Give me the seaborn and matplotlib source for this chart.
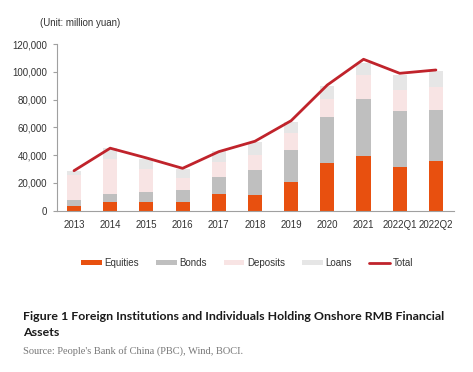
import numpy as np
import pandas as pd
import matplotlib
matplotlib.use("Agg")
import matplotlib.pyplot as plt
from matplotlib.patches import Patch
from matplotlib.lines import Line2D
from matplotlib.ticker import FuncFormatter
import seaborn as sns

categories = ["2013", "2014", "2015", "2016", "2017", "2018", "2019", "2020", "2021", "2022Q1", "2022Q2"]
equities = [3600, 6000, 6000, 6500, 11800, 11300, 20900, 34600, 39600, 31700, 36000]
bonds = [3900, 6000, 7700, 8400, 12200, 18000, 22800, 33100, 40800, 40100, 36500]
deposits = [18400, 25000, 16100, 8900, 11300, 10800, 12000, 12500, 17300, 15100, 16800]
loans = [2900, 8000, 7200, 6200, 7500, 9600, 8400, 9600, 8400, 10800, 11500]
total = [28800, 45000, 38000, 30500, 42500, 50000, 64800, 90500, 109000, 98900, 101300]

c_eq = "#E8500F"
c_bo = "#BFBFBF"
c_de = "#F8E4E4"
c_lo = "#E6E6E6"
c_to = "#C0232B"

sns.set_style("white")
plt.rcParams["font.family"] = ["Liberation Sans", "DejaVu Sans"]

W, H = 473, 372
fig = plt.figure(figsize=(W / 100, H / 100), dpi=100)
ax = fig.add_axes([57 / W, 1 - 210.7 / H, (454 - 57) / W, (210.7 - 44) / H])

df = pd.DataFrame({"cat": categories, "eq": equities, "bo": bonds, "de": deposits, "lo": loans})
df["c1"] = df["eq"]
df["c2"] = df["c1"] + df["bo"]
df["c3"] = df["c2"] + df["de"]
df["c4"] = df["c3"] + df["lo"]

for col, color in [("c4", c_lo), ("c3", c_de), ("c2", c_bo), ("c1", c_eq)]:
    sns.barplot(data=df, x="cat", y=col, color=color, width=0.39, ax=ax,
                saturation=1, linewidth=0, order=categories)

sns.lineplot(x=np.arange(len(categories)), y=total, color=c_to, linewidth=2.0, ax=ax)

ax.set_xlim(-0.47, len(categories) - 0.5)
ax.set_ylim(0, 120000)
ax.set_yticks(np.arange(0, 120001, 20000))
ax.yaxis.set_major_formatter(FuncFormatter(lambda v, p: f"{int(v):,}"))
ax.set_xlabel("")
ax.set_ylabel("")
for s in ["top", "right"]:
    ax.spines[s].set_visible(False)
for s in ["left", "bottom"]:
    ax.spines[s].set_color("#A0A0A0")
    ax.spines[s].set_linewidth(0.8)
ax.tick_params(axis="y", which="major", length=3, color="#A0A0A0", labelsize=7, labelcolor="#333333", pad=4, left=True)
ax.tick_params(axis="x", length=0, labelsize=7, labelcolor="#333333", pad=7)

fig.text(40 / W, 1 - 23 / H, "(Unit: million yuan)", fontsize=7, color="#333333", va="center", ha="left")

handles = [
    Patch(facecolor=c_eq, edgecolor="none", label="Equities"),
    Patch(facecolor=c_bo, edgecolor="none", label="Bonds"),
    Patch(facecolor=c_de, edgecolor="none", label="Deposits"),
    Patch(facecolor=c_lo, edgecolor="none", label="Loans"),
    Line2D([0], [0], color=c_to, linewidth=2, label="Total"),
]
fig.legend(handles=handles, loc="center", bbox_to_anchor=(247 / W, 1 - 263 / H), ncol=5,
           frameon=False, fontsize=7, handlelength=2.1, handleheight=0.5, columnspacing=1.75,
           handletextpad=0.3, labelcolor="#333333")

fig.text(23 / W, 1 - 317 / H, "Figure 1 Foreign Institutions and Individuals Holding Onshore RMB Financial",
         fontsize=8.9, fontweight="bold", color="#1a1a1a", va="center", ha="left",
         family=["Lato", "DejaVu Sans"])
fig.text(23 / W, 1 - 333 / H, "Assets", fontsize=8.9, fontweight="bold", color="#1a1a1a",
         va="center", ha="left", family=["Lato", "DejaVu Sans"])
fig.text(23 / W, 1 - 351 / H, "Source: People's Bank of China (PBC), Wind, BOCI.", fontsize=7.5,
         color="#777777", va="center", ha="left", family=["Liberation Serif", "DejaVu Serif"])

fig.savefig("out.png", dpi=100)
